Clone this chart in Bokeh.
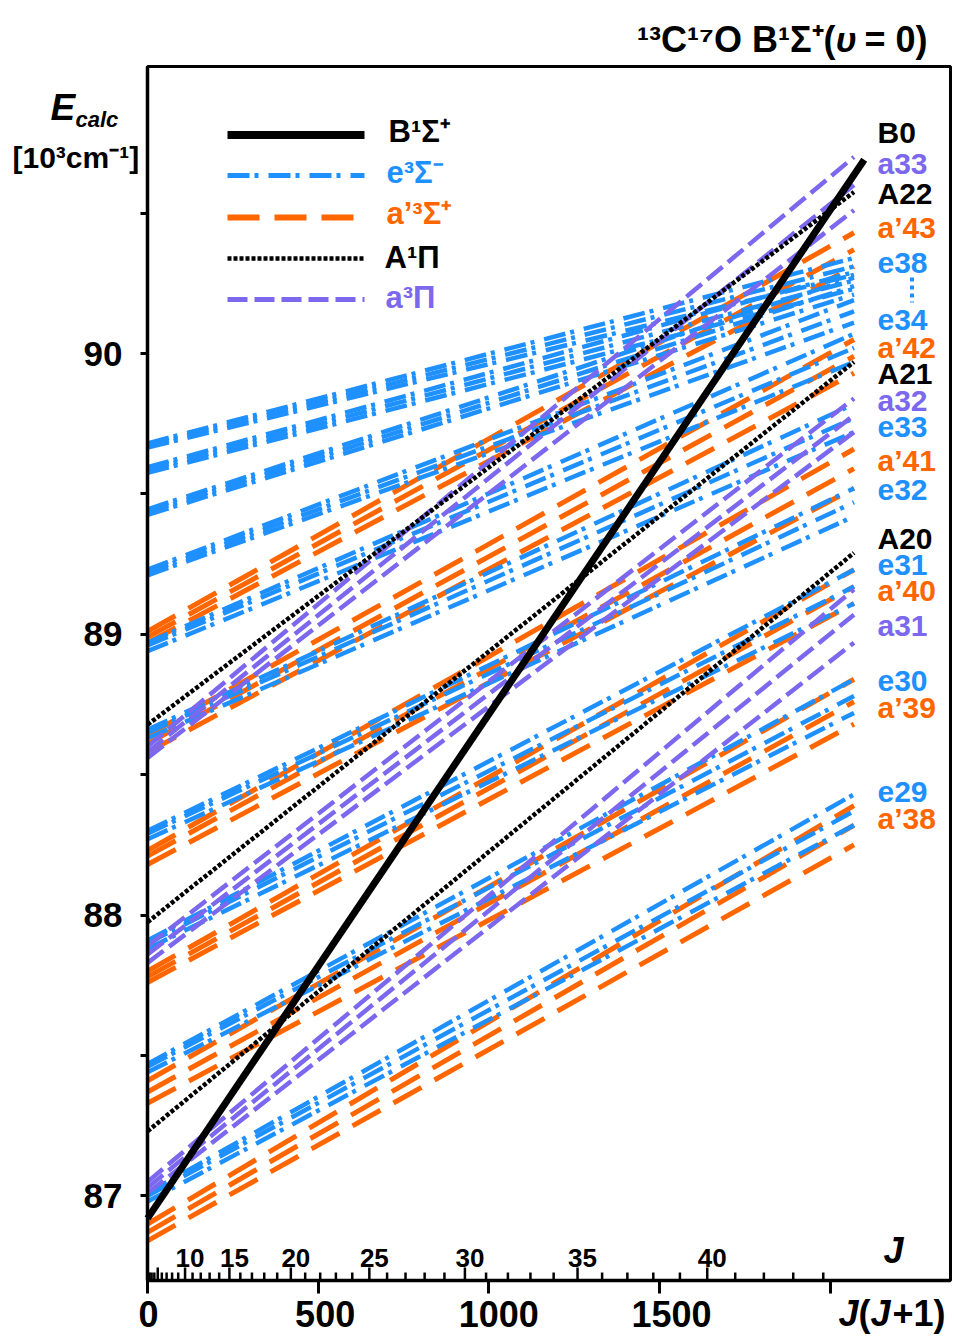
import numpy as np
from bokeh.plotting import figure
from bokeh.models import Range1d, FixedTicker, ColumnDataSource, BoxAnnotation
from bokeh.embed import file_html
from bokeh.resources import INLINE
from bokeh.core.properties import value

FONT = "Liberation Sans"

# ---------------- data ----------------
JJ_MAX = 2070                      # J(J+1) at J = 45, where the term curves end
B0_JJ = [0, 2100]
B0_E = [86.92, 90.69]

A_names = ["A20", "A21", "A22"]
A_start = [87.23, 87.975, 88.678]
A_end = [89.29, 89.97, 90.575]

e_names = ["e29", "e30", "e31", "e32", "e33", "e34", "e35", "e36", "e37", "e38"]
e_start = [
    [87.01, 87.00, 86.98],
    [87.47, 87.46, 87.44],
    [87.91, 87.90, 87.88],
    [88.30, 88.29, 88.27],
    [88.66, 88.65, 88.63],
    [88.97, 88.96, 88.94],
    [89.23, 89.22, 89.21],
    [89.445, 89.435, 89.425],
    [89.595, 89.585, 89.575],
    [89.68, 89.672, 89.665],
]
e_end = [
    [88.43, 88.37, 88.32],
    [88.84, 88.78, 88.72],
    [89.23, 89.17, 89.11],
    [89.52, 89.47, 89.42],
    [89.82, 89.77, 89.72],
    [90.07, 90.02, 89.97],
    [90.19, 90.15, 90.11],
    [90.27, 90.24, 90.21],
    [90.29, 90.26, 90.23],
    [90.34, 90.31, 90.28],
]

ap_names = ["a’38", "a’39", "a’40", "a’41", "a’42", "a’43"]
ap_start = [
    [86.90, 86.87, 86.84],
    [87.41, 87.37, 87.33],
    [87.80, 87.78, 87.76],
    [88.23, 88.21, 88.18],
    [88.64, 88.61, 88.58],
    [89.01, 88.99, 88.97],
]
ap_end = [
    [88.39, 88.32, 88.25],
    [88.84, 88.76, 88.68],
    [89.23, 89.17, 89.11],
    [89.66, 89.59, 89.52],
    [90.05, 89.99, 89.93],
    [90.43, 90.37, 90.31],
]

a_names = ["a31", "a32", "a33"]
a_start = [
    [87.05, 87.03, 87.01],
    [87.89, 87.86, 87.83],
    [88.60, 88.58, 88.56],
]
a_end = [
    [89.16, 89.07, 88.97],
    [89.84, 89.78, 89.72],
    [90.70, 90.60, 90.51],
]

J_ticks = list(range(1, 45))
J_labeled = [10, 15, 20, 25, 30, 35, 40]
x_ticks = [0, 500, 1000, 1500, 2000]
x_lab_ticks = [0, 500, 1000, 1500]
x_lab_text = ["0", "500", "1000", "1500"]
y_ticks = [87, 88, 89, 90]
y_minor = [87.5, 88.5, 89.5, 90.5]

lab_text = ["B0", "a33", "A22", "a’43", "e38", "e34", "a’42", "A21", "a32", "e33",
            "a’41", "e32", "A20", "e31", "a’40", "a31", "e30", "a’39", "e29", "a’38"]
lab_state = ["B", "a", "A", "ap", "e", "e", "ap", "A", "a", "e",
             "ap", "e", "A", "e", "ap", "a", "e", "ap", "e", "ap"]
lab_base_py = [142, 173, 203, 237, 273, 330, 357, 383, 410, 437,
               470, 500, 548, 575, 600, 635, 691, 717, 802, 828]

# ---------------- styles ----------------
COL = {"B": "black", "A": "black", "e": "#1E90FF", "ap": "#FF6600", "a": "#7B68EE"}
DASH = {"B": "solid", "A": "4 2", "e": "22 5 4 10", "ap": "32 15", "a": "20 7"}
WID = {"B": 7, "A": 4.5, "e": 4.5, "ap": 5, "a": 4.5}

# ---------------- page geometry (pixels of the reference) ----------------
PX0, PXS = 147.0, 0.3413     # page x of J(J+1)=0, px per unit
PY90, PYS = 353.0, 280.8     # page y of E=90, px per 10^3 cm-1
FL, FR, FT, FB = 147, 950, 66, 1280
W, H = 954, 1337
MID = 0.35                   # em fraction from baseline up to the middle of the text box


def X(px):
    return (px - PX0) / PXS


def E(py):
    return 90 - (py - PY90) / PYS


def Eb(py, size):
    """data y of the text-box middle for a text whose baseline is at page y = py"""
    return E(py - MID * size)


p = figure(width=W, height=H,
           x_range=Range1d(X(0), X(W)), y_range=Range1d(E(H), E(0)),
           output_backend="svg", toolbar_location=None,
           min_border=0, min_border_left=0, min_border_right=0,
           min_border_top=0, min_border_bottom=0)
p.xgrid.visible = False
p.ygrid.visible = False
p.outline_line_color = None
p.background_fill_color = "white"
p.border_fill_color = "white"

# plot box
p.add_layout(BoxAnnotation(left=X(FL), right=X(FR), bottom=E(FB), top=E(FT),
                           fill_alpha=0, fill_color=None, line_color="black",
                           line_width=3, line_alpha=1))

xa = p.xaxis[0]
xa.fixed_location = E(FB)
xa.bounds = (X(FL), X(FR))
xa.ticker = FixedTicker(ticks=x_ticks, minor_ticks=[])
xa.major_tick_out = 13
xa.major_tick_in = 0
xa.major_tick_line_width = 3
xa.axis_line_width = 3.5
xa.major_label_overrides = {t: "" for t in x_ticks}
xa.major_label_text_font_size = "0px"
xa.major_label_standoff = 0

ya = p.yaxis[0]
ya.fixed_location = X(FL)
ya.bounds = (E(FB), E(FT))
ya.ticker = FixedTicker(ticks=y_ticks, minor_ticks=y_minor)
ya.major_tick_out = 7
ya.major_tick_in = 0
ya.minor_tick_out = 7
ya.minor_tick_in = 0
ya.major_tick_line_width = 3
ya.minor_tick_line_width = 3
ya.axis_line_width = 3.5
ya.major_label_text_font = FONT
ya.major_label_text_font_size = "35px"
ya.major_label_text_font_style = "bold"
ya.major_label_text_color = "black"
ya.major_label_standoff = 18


def draw_state(starts, ends, key):
    for comp_s, comp_e in zip(starts, ends):
        for s, e_ in zip(comp_s, comp_e):
            p.line([0, JJ_MAX], [s, e_], line_color=COL[key], line_dash=DASH[key],
                   line_width=WID[key])


draw_state(ap_start, ap_end, "ap")
draw_state(e_start, e_end, "e")
draw_state(a_start, a_end, "a")
for s, e_ in zip(A_start, A_end):
    p.line([0, JJ_MAX], [s, e_], line_color=COL["A"], line_dash=DASH["A"], line_width=WID["A"])
p.line(B0_JJ, B0_E, line_color="black", line_width=WID["B"])

# ---------------- tick labels of J(J+1) ----------------
p.text(x=x_lab_ticks, y=[Eb(1326, 36)] * len(x_lab_ticks), text=x_lab_text,
       x_offset=[1, 7, 10, 12],
       text_font=value(FONT), text_font_size=value("36px"), text_font_style=value("bold"),
       text_align=value("center"), text_baseline=value("middle"), text_color="black")

# ---------------- J scale inside the bottom axis ----------------
jj = [J * (J + 1) for J in J_ticks]
hpx = [13 if J % 5 == 0 else 8 for J in J_ticks]
p.segment(x0=jj, y0=[E(FB)] * len(jj), x1=jj, y1=[E(FB - h) for h in hpx],
          line_color="black", line_width=2.5)
p.text(x=[J * (J + 1) for J in J_labeled], y=[Eb(1267, 26)] * len(J_labeled),
       text=[str(J) for J in J_labeled], x_offset=5,
       text_font=value(FONT), text_font_size=value("26px"), text_font_style=value("bold"),
       text_align=value("center"), text_baseline=value("middle"), text_color="black")

# ---------------- level labels on the right ----------------
src = ColumnDataSource(dict(x=[X(877)] * len(lab_text), y=[Eb(b, 30) for b in lab_base_py],
                            text=lab_text, color=[COL[s] for s in lab_state]))
p.text(x="x", y="y", text="text", text_color="color", source=src,
       text_font=value(FONT), text_font_size=value("30px"), text_font_style=value("bold"),
       text_align=value("left"), text_baseline=value("middle"))
p.line([X(911.5)] * 2, [E(277), E(302)], line_color=COL["e"], line_dash="4 4", line_width=4)

# ---------------- legend ----------------
leg_keys = ["B", "e", "ap", "A", "a"]
leg_text = ["B¹Σ⁺", "e³Σ⁻", "a’³Σ⁺", "A¹Π", "a³Π"]
leg_line_py = [134.5, 175, 217, 258, 299]
leg_wid = [8, 5, 6, 4.5, 5]
leg_text_px = [388, 386, 386, 384, 385]
leg_text_py = [142, 183, 224, 268, 308]
for k, ly, lw in zip(leg_keys, leg_line_py, leg_wid):
    p.line([X(227), X(364)], [E(ly)] * 2, line_color=COL[k], line_dash=DASH[k], line_width=lw)
p.text(x=[X(v) for v in leg_text_px], y=[Eb(v, 31) for v in leg_text_py], text=leg_text,
       text_color=[COL[k] for k in leg_keys],
       text_font=value(FONT), text_font_size=value("31px"), text_font_style=value("bold"),
       text_align=value("left"), text_baseline=value("middle"))


# ---------------- free texts (title, axis names) ----------------
def ptext(text, px, py, size, style="bold", align="left", color="black"):
    p.text(x=[X(px)], y=[Eb(py, size)], text=[text], text_font=value(FONT),
           text_font_size=value(f"{size}px"), text_font_style=value(style),
           text_align=value(align), text_baseline=value("middle"), text_color=color)


ptext("¹³C¹⁷O B¹Σ⁺(", 835, 52, 36, align="right")
ptext("υ", 835, 52, 36, style="bold italic")
ptext("= 0)", 864, 52, 36)
ptext("E", 50, 120, 37, style="bold italic")
ptext("calc", 75, 127, 22, style="bold italic")
ptext("[10³cm⁻¹]", 12, 167, 30)
ptext("J", 883, 1263, 36, style="bold italic")
ptext("J", 838, 1326, 36, style="bold italic")
ptext("(", 858, 1326, 36)
ptext("J", 870, 1326, 36, style="bold italic")
ptext("+1)", 892, 1326, 36)

open("out.html", "w").write(file_html(p, INLINE))
